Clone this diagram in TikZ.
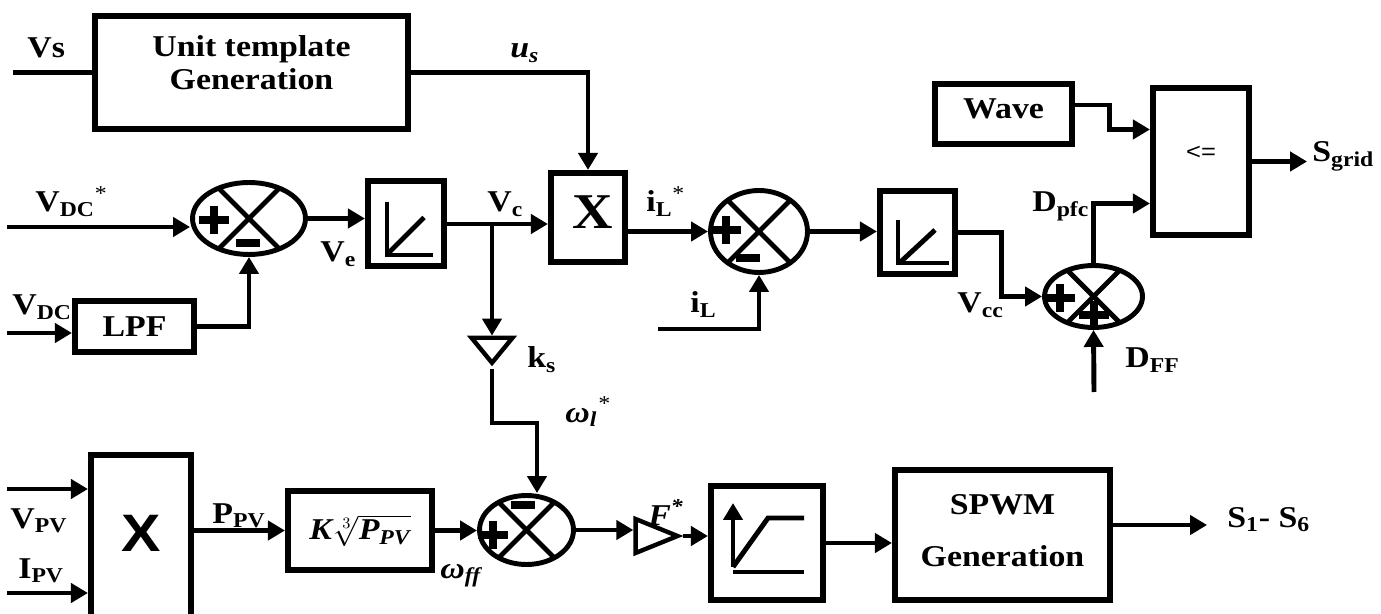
\documentclass[tikz,border=0pt]{standalone}
\usepackage{amsmath, amssymb}
\usepackage{fontspec}
\setmainfont{Liberation Serif}[FakeStretch=1.12]
\setsansfont{Liberation Sans}[FakeStretch=1.12]
\usepackage{tikz}
\usetikzlibrary{arrows.meta, positioning, calc, shapes.geometric}

\tikzset{
  wire/.style={line width=2.8pt},
  fl/.style={wire, -{Triangle[length=0.34cm, width=0.38cm]}},
  block/.style={draw, line width=3.5pt, inner sep=0pt},
  sumnode/.style={draw, ellipse, line width=2.8pt, inner sep=0pt,
    path picture={\draw[line width=2.8pt] (path picture bounding box.center)
      +(-60,-60) -- +(60,60) +(60,-60) -- +(-60,60);}},
  gain/.style={draw, isosceles triangle, isosceles triangle stretches,
    line width=2.5pt, inner sep=0pt},
  signline/.style={line width=5pt},
  lbl/.style={inner sep=0pt, anchor=base west},
}
\newcommand{\plusat}[1]{\draw[signline] (#1) ++(-15,0) -- ++(30,0) (#1) ++(0,-14) -- ++(0,28);}
\newcommand{\minusat}[1]{\draw[signline] (#1) ++(-12,0) -- ++(24,0);}
\newcommand{\upbox}[2]{\raisebox{#1}{\begin{tabular}{@{}c@{}}#2\end{tabular}}}
\newcommand{\cuberoot}{\textit{K}$\sqrt[3]{\mbox{\bfseries\itshape P\textsubscript{PV}}}$}

\begin{document}
\begin{tikzpicture}[x=0.02cm, y=-0.02cm, font=\fontsize{17.2}{19}\selectfont\bfseries]
  \useasboundingbox (0,0) rectangle (1381,614);
  % --- Blocs ---
  \node[block, minimum width=6.26cm, minimum height=2.26cm] (ut) at (251.5,72.5) {\upbox{0.76cm}{Unit template\\Generation}};
  \node[block, minimum width=1.48cm, minimum height=1.78cm, font=\fontsize{28.5}{30}\selectfont\bfseries] (mx1) at (588,217.5) {\raisebox{0.2cm}{\hspace{0.2cm}X}};
  \node[block, minimum width=1.52cm, minimum height=1.70cm] (pi1) at (406,223.5) {};
  \node[block, minimum width=2.38cm, minimum height=1.02cm] (lpf) at (134.5,326.5) {LPF};
  \node[block, minimum width=1.50cm, minimum height=1.66cm] (pi2) at (917.5,232.5) {};
  \node[block, minimum width=2.74cm, minimum height=1.20cm] (wave) at (1003.5,114) {\raisebox{0.2cm}{Wave}};
  \node[block, minimum width=1.92cm, minimum height=2.94cm, font=\sffamily\fontsize{13}{15}\selectfont] (cmp) at (1201,161.5) {\raisebox{0.36cm}{<=}};
  \node[block, minimum width=2.00cm, minimum height=3.40cm, font=\sffamily\fontsize{30}{32}\selectfont\bfseries] (mx2) at (141,540) {\raisebox{0.28cm}{X}};
  \node[block, minimum width=2.88cm, minimum height=1.58cm] (kb) at (360,530.5) {\cuberoot};
  \node[block, minimum width=2.24cm, minimum height=2.28cm] (sat) at (767,543) {};
  \node[block, minimum width=4.30cm, minimum height=2.60cm] (spwm) at (1002.5,535) {\upbox{0.76cm}{SPWM\\[10.6pt]Generation}};
  % --- Sommateurs et gains ---
  \node[sumnode, minimum width=2.26cm, minimum height=1.44cm] (s1) at (249,218.5) {};
  \node[sumnode, minimum width=1.94cm, minimum height=1.64cm] (s2) at (759,231.5) {};
  \node[sumnode, minimum width=1.88cm, minimum height=1.38cm] (s3) at (526.5,530) {};
  \node[sumnode, minimum width=1.96cm, minimum height=1.24cm] (s4) at (1093.5,296.5) {};
  \node[gain, shape border rotate=270, minimum width=0.82cm, minimum height=0.50cm] (gk) at (492,347.5) {};
  \node[gain, minimum width=0.68cm, minimum height=0.84cm] (gf) at (647,536) {};
  \plusat{214,220} \minusat{248,243}
  \plusat{726,230} \minusat{748,258}
  \plusat{493,535} \minusat{523,505}
  \plusat{1060,298} \plusat{1094,315}
  % --- Icones des correcteurs ---
  \draw[wire] ([shift={(-19,-21.5)}]pi1.center) -- ++(0,53) -- ++(46,0);
  \draw[wire] ([shift={(-17,29)}]pi1.center) -- ++(35,-35);
  \draw[wire] ([shift={(-19.5,-12.5)}]pi2.center) -- ++(0,43) -- ++(51,0);
  \draw[wire] ([shift={(-17,29.5)}]pi2.center) -- ++(34.5,-32);
  \draw[fl] ([shift={(-34,24)}]sat.center) -- ++(0,-64);
  \draw[wire] ([shift={(-34,24)}]sat.center) -- ++(35,-49) -- ++(36,0);
  \draw[wire] ([shift={(-34,29)}]sat.center) -- ++(71,0);
  % --- Boucle de tension ---
  \coordinate (vsin) at (13,72.5);
  \draw[wire] (vsin) -- (ut.west);
  \draw[fl] (ut.east) -| (mx1.north);
  \coordinate (vdcin) at (7,227);
  \draw[fl] (vdcin) -- (vdcin -| s1.west);
  \draw[fl] (s1.east) -- (s1.east -| pi1.west);
  \coordinate (lpfin) at (7,333);
  \draw[fl] (lpfin) -- (lpfin -| lpf.west);
  \draw[fl] (lpf.east) -| (s1.south);
  \coordinate (jn) at (492,224);
  \draw[fl] (pi1.east |- jn) -- (jn -| mx1.west);
  \draw[fl] (jn) -- (gk.north);
  \coordinate (kb1) at (537,423);
  \draw[fl] (gk.apex) |- (kb1) -- (kb1 |- s3.north);
  % --- Boucle de courant ---
  \draw[fl] (mx1.east |- s2.west) -- (s2.west);
  \draw[fl] (s2.east) -- (s2.east -| pi2.west);
  \coordinate (ilin) at (658,329);
  \draw[fl] (ilin) -| (s2.south);
  \draw[fl] (pi2.east) -- ++(43,0) |- (s4.west);
  \coordinate (dffin) at (1094,392);
  \draw[fl] (dffin) -- (s4.south);
  \draw[fl] (s4.north) |- ($(cmp.west)+(0,42)$);
  \draw[fl] ($(wave.east)+(0,-9)$) -- ++(34,0) |- ($(cmp.west)+(0,-32)$);
  \draw[fl] (cmp.east) -- ++(55,0);
  % --- Chaine PV ---
  \coordinate (vpvin) at (7,489);
  \coordinate (ipvin) at (7,593);
  \draw[fl] (vpvin) -- (vpvin -| mx2.west);
  \draw[fl] (ipvin) -- (ipvin -| mx2.west);
  \draw[fl] (mx2.east |- kb.west) -- (kb.west);
  \draw[fl] (kb.east) -- (kb.east -| s3.west);
  \draw[fl] (s3.east) -- (s3.east -| gf.west);
  \draw[fl] (gf.apex) -- (gf.apex -| sat.west);
  \draw[fl] (sat.east) -- (sat.east -| spwm.west);
  \draw[fl] ($(spwm.east)+(0,-10)$) -- ++(94,0);
  % --- Etiquettes ---
  \node[lbl] at (27,58) {Vs};
  \node[lbl] at (510,58) {\itshape u\textsubscript{s}};
  \node[lbl] at (35,212) {V\textsubscript{DC}\textsuperscript{\mdseries*}};
  \node[lbl] at (12,315) {V\textsubscript{DC}};
  \node[lbl] at (320,262) {V\textsubscript{e}};
  \node[lbl] at (487,212) {V\textsubscript{c}};
  \node[lbl] at (646,212) {i\textsubscript{L}\textsuperscript{\mdseries*}};
  \node[lbl] at (690,313) {i\textsubscript{L}};
  \node[lbl] at (527,368) {k\textsubscript{s}};
  \node[lbl] at (565,422) {\itshape ω\textsubscript{l}\textsuperscript{\mdseries*}};
  \node[lbl] at (957,313) {V\textsubscript{cc}};
  \node[lbl] at (1032,212) {D\textsubscript{pfc}};
  \node[lbl] at (1125,368) {D\textsubscript{FF}};
  \node[lbl] at (1312,162) {S\textsubscript{grid}};
  \node[lbl] at (10,528) {V\textsubscript{PV}};
  \node[lbl] at (18,578) {I\textsubscript{PV}};
  \node[lbl] at (212,523) {P\textsubscript{PV}};
  \node[lbl] at (440,578) {\itshape ω\textsubscript{ff}};
  \node[lbl] at (648,525) {\itshape F\textsuperscript{*}};
  \node[lbl] at (1227,527) {S\textsubscript{1}- S\textsubscript{6}};
\end{tikzpicture}
\end{document}
